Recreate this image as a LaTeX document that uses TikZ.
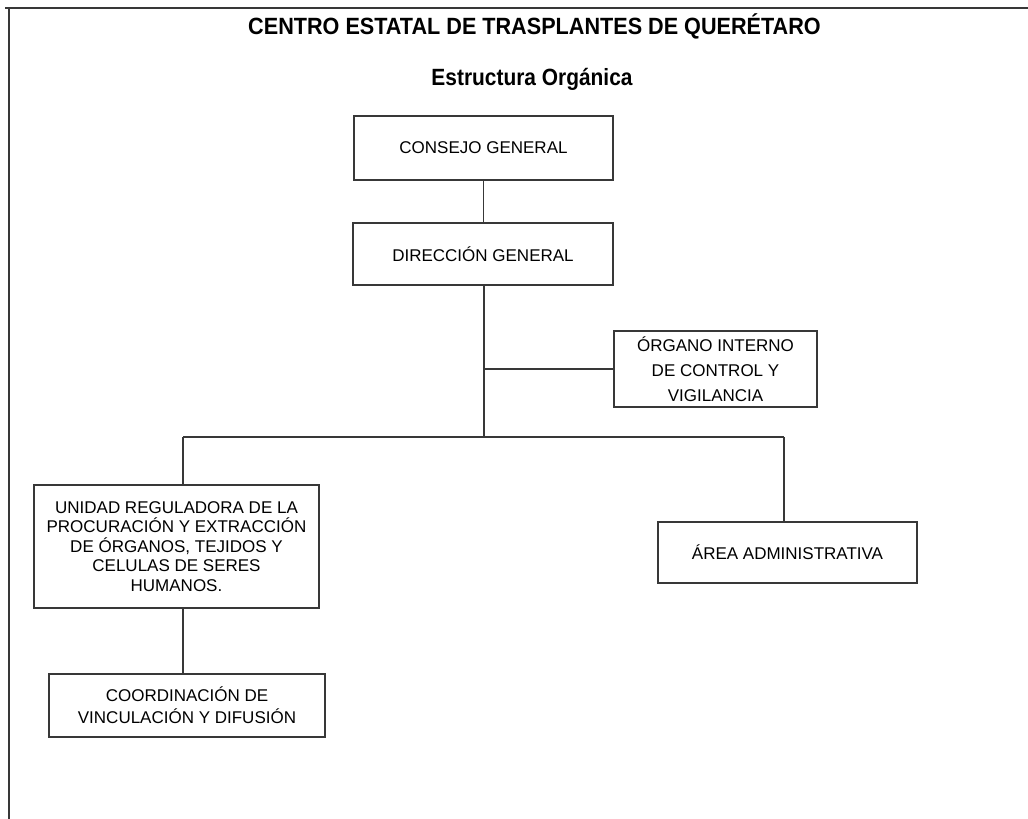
\documentclass[tikz,border=0pt]{standalone}
\usepackage{fontspec}
\setmainfont{Liberation Sans}
\newfontfamily\titlefont[FakeStretch=0.92]{Liberation Sans}
\newfontfamily\subtitlefont[FakeStretch=0.89]{Liberation Sans}
\begin{document}
\begin{tikzpicture}[x=1pt,y=-1pt,
  line/.style={draw=black!78, line width=1.3pt},
  box/.style={line, fill=white, inner sep=0pt, align=center, font=\fontsize{17}{19.4}\selectfont},
  ttl/.style={font=\titlefont\bfseries\fontsize{23.5}{26}\selectfont, anchor=base, inner sep=0pt}
]
\useasboundingbox (0,0) rectangle (1028,819);
% frame
\draw[line] (5,8) -- (1028,8);
\draw[line] (9,7) -- (9,819);
% titles
\node[ttl] (t1) at (534.5,34) {CENTRO ESTATAL DE TRASPLANTES DE QUERÉTARO};
\node[ttl, font=\subtitlefont\bfseries\fontsize{23.5}{26}\selectfont] (t2) at (532,85) {Estructura Orgánica};
% boxes
\node[box, minimum width=259, minimum height=64] (cg) at (483.5,148) {CONSEJO GENERAL};
\node[box, minimum width=260, minimum height=62] (dg) at (483,254) {DIRECCIÓN GENERAL};
\node[box, minimum width=203, minimum height=76, font=\fontsize{17}{25}\selectfont] (oic) at (715.5,369) {ÓRGANO INTERNO\\DE CONTROL Y\\VIGILANCIA};
\node[box, minimum width=285, minimum height=123] (ur) at (176.5,546.5) {UNIDAD REGULADORA DE LA\\PROCURACIÓN Y EXTRACCIÓN\\DE ÓRGANOS, TEJIDOS Y\\CELULAS DE SERES\\HUMANOS.};
\node[box, minimum width=259, minimum height=61] (ar) at (787.5,552.5) {ÁREA ADMINISTRATIVA};
\node[box, minimum width=276, minimum height=63, font=\fontsize{17}{21.7}\selectfont] (cd) at (187,705.5) {COORDINACIÓN DE\\VINCULACIÓN Y DIFUSIÓN};
% connectors
\coordinate (j) at (484,437);
\coordinate (hl) at (183,437);
\coordinate (hr) at (784,437);
\draw[line] (cg.south) -- (cg.south |- dg.north);
\draw[line] (dg.south -| j) -- (j);
\draw[line] (j |- oic.west) -- (oic.west);
\draw[line] (hl) -- (hr);
\draw[line] (hl) -- (hl |- ur.north);
\draw[line] (hr) -- (hr |- ar.north);
\draw[line] (ur.south -| hl) -- (cd.north -| hl);
\end{tikzpicture}
\end{document}
